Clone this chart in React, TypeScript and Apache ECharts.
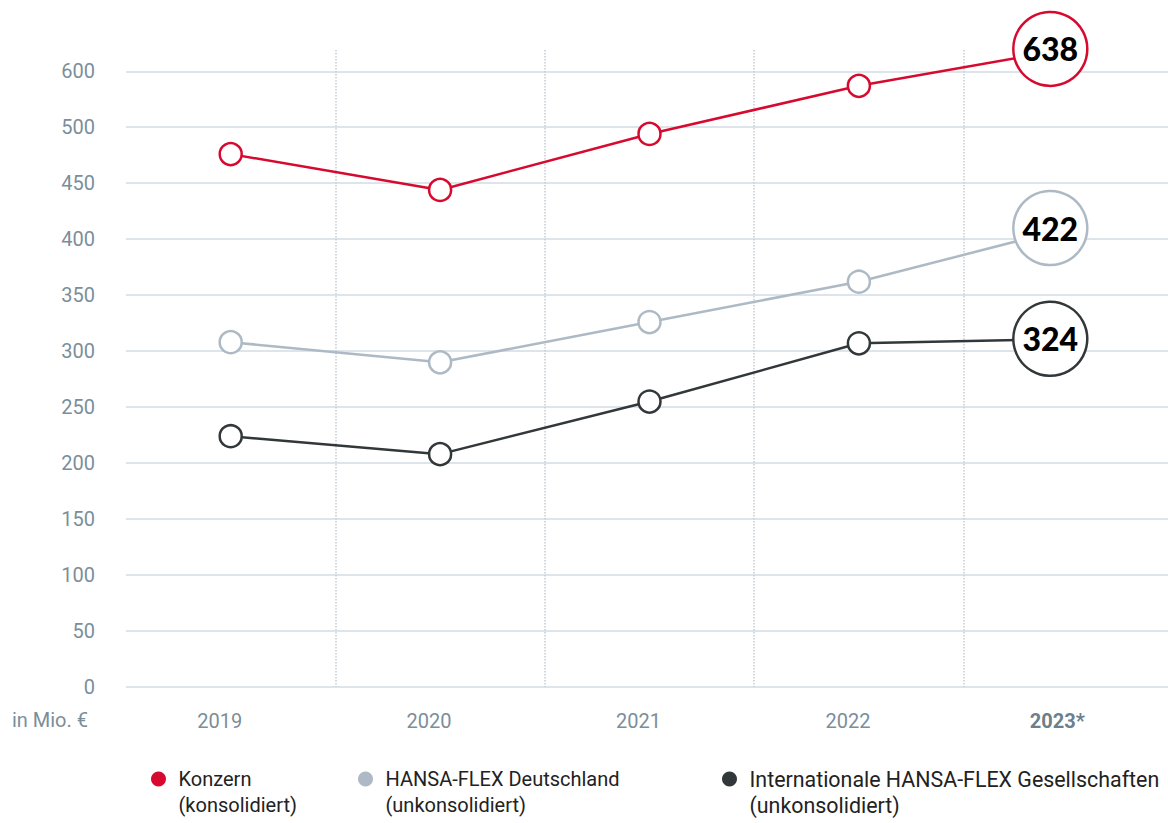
import React, { useEffect, useRef } from 'react';
import * as echarts from 'echarts';

const years = ['2019', '2020', '2021', '2022', '2023*'];
const konzern = [476, 444, 494, 537, 570];
const deutschland = [308, 290, 326, 362, 410];
const international = [224, 208, 255, 307, 311];
const labels2023 = [638, 422, 324];
const yTickLabels = ['0', '50', '100', '150', '200', '250', '300', '350', '400', '450', '500', '600'];
const seriesNames = ['Konzern', 'HANSA-FLEX Deutschland', 'Internationale HANSA-FLEX Gesellschaften'];
const seriesSubtitles = ['(konsolidiert)', '(unkonsolidiert)', '(unkonsolidiert)'];
const colors = ['#d7092e', '#adbac5', '#323739'];
const legendLefts = [151, 358, 722];
const legendFontSizes = [20, 20, 21.4];

const FONT = 'Roboto, "Noto Sans", sans-serif';
const AXIS_COLOR = '#7b8e9a';

export default function App() {
  const ref = useRef<HTMLDivElement>(null);

  useEffect(() => {
    if (!ref.current) return;
    const chart = echarts.init(ref.current, undefined, { renderer: 'svg' });
    const allData = [konzern, deutschland, international];

    const series = allData.map((vals, k) => ({
      name: seriesNames[k],
      type: 'line',
      clip: false,
      symbol: 'circle',
      symbolSize: 22,
      lineStyle: { color: colors[k], width: 2.5 },
      itemStyle: { color: '#ffffff', borderColor: colors[k], borderWidth: 2.5 },
      emphasis: { disabled: true },
      z: 3 - k,
      data: vals.map((v, i) =>
        i === vals.length - 1
          ? {
              value: v,
              symbolSize: 74,
              symbolOffset: [-18, 0],
              label: {
                show: true,
                position: 'inside',
                formatter: String(labels2023[k]),
                fontFamily: 'Lato, Roboto, sans-serif',
                fontSize: 32,
                fontWeight: 900,
                color: '#000000',
              },
            }
          : v
      ),
    }));

    const legend = seriesNames.map((n, k) => ({
      data: [{ name: n, itemStyle: { color: colors[k], borderWidth: 0 } }],
      left: legendLefts[k],
      top: 740,
      icon: 'circle',
      itemWidth: 30,
      itemHeight: 15,
      itemGap: 0,
      padding: 0,
      selectedMode: false,
      formatter: (name: string) => ' \n' + name + '\n' + seriesSubtitles[k],
      textStyle: {
        fontFamily: FONT,
        fontSize: legendFontSizes[k],
        lineHeight: 26,
        color: '#222222',
      },
    }));

    chart.setOption({
      animation: false,
      backgroundColor: '#ffffff',
      textStyle: { fontFamily: FONT },
      grid: { left: 126, right: 0, top: 50, bottom: 136, containLabel: false },
      legend,
      xAxis: {
        type: 'category',
        data: years,
        boundaryGap: true,
        axisLine: { show: false },
        axisTick: { show: false },
        splitLine: {
          show: true,
          showMinLine: false,
          showMaxLine: false,
          lineStyle: { type: 'dotted', color: '#c3cdd5', width: 1.5 },
        },
        axisLabel: {
          margin: 24,
          padding: [0, 22, 0, 0],
          formatter: (v: string, i: number) => (i === years.length - 1 ? '{b|' + v + '}' : '{n|' + v + '}'),
          rich: {
            n: { fontFamily: FONT, fontSize: 20, color: AXIS_COLOR },
            b: { fontFamily: FONT, fontSize: 20, color: '#6b7f8c', fontWeight: 'bold' },
          },
        },
      },
      yAxis: {
        type: 'value',
        min: 0,
        max: 569,
        interval: 50,
        name: 'in Mio. €',
        nameLocation: 'start',
        nameGap: 33,
        nameTextStyle: {
          fontFamily: FONT,
          fontSize: 20,
          color: AXIS_COLOR,
          align: 'right',
          verticalAlign: 'middle',
          padding: [0, 38, 0, 0],
        },
        axisLine: { show: false },
        axisTick: { show: false },
        axisLabel: {
          margin: 31,
          showMaxLabel: false,
          fontFamily: FONT,
          fontSize: 20,
          color: AXIS_COLOR,
          formatter: (v: number) => (v % 50 === 0 ? yTickLabels[v / 50] ?? '' : ''),
        },
        splitLine: {
          show: true,
          showMaxLine: false,
          lineStyle: { color: '#d3dce3', width: 1.5 },
        },
      },
      series,
    });

    return () => chart.dispose();
  }, []);

  return <div ref={ref} style={{ position: 'fixed', left: 0, top: 0, width: 1173, height: 823 }} />;
}
